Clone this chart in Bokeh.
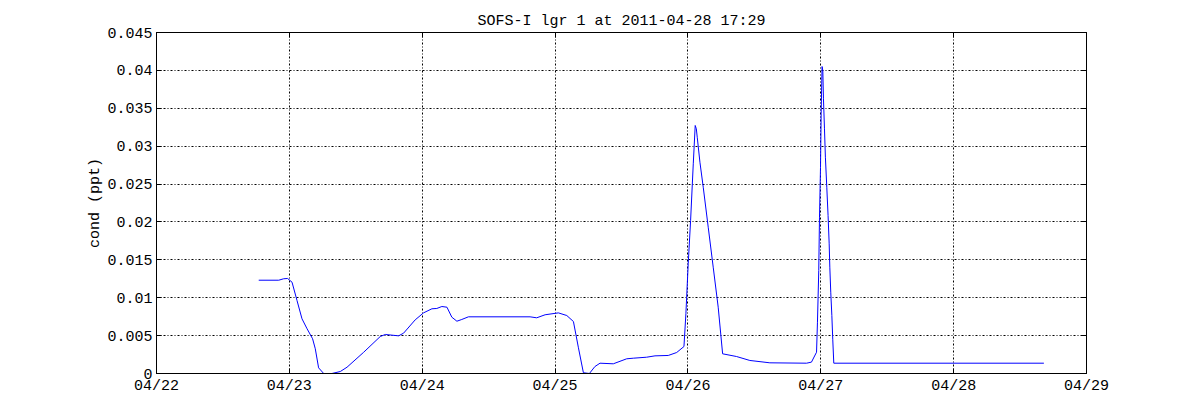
import pandas as pd
from bokeh.plotting import figure
from bokeh.models import (FixedTicker, DatetimeTickFormatter, LinearAxis,
                          DatetimeAxis, Range1d, ColumnDataSource)
from bokeh.embed import file_html
from bokeh.resources import INLINE

title_text = "SOFS-I lgr 1 at 2011-04-28 17:29"
y_label = "cond (ppt)"

times = [
    "2011-04-22 18:28", "2011-04-22 22:05", "2011-04-22 22:58", "2011-04-22 23:41",
    "2011-04-23 00:29", "2011-04-23 01:23", "2011-04-23 02:17", "2011-04-23 03:12",
    "2011-04-23 04:12", "2011-04-23 04:41", "2011-04-23 05:17", "2011-04-23 06:12",
    "2011-04-23 07:41", "2011-04-23 09:12", "2011-04-23 10:25", "2011-04-23 13:25",
    "2011-04-23 16:25", "2011-04-23 17:20", "2011-04-23 19:44", "2011-04-23 20:38",
    "2011-04-23 22:44", "2011-04-24 00:14", "2011-04-24 01:45", "2011-04-24 02:38",
    "2011-04-24 03:33", "2011-04-24 04:28", "2011-04-24 05:21", "2011-04-24 06:16",
    "2011-04-24 07:09", "2011-04-24 08:21", "2011-04-24 19:29", "2011-04-24 20:41",
    "2011-04-24 22:12", "2011-04-25 00:36", "2011-04-25 02:07", "2011-04-25 03:19",
    "2011-04-25 04:12", "2011-04-25 05:07", "2011-04-25 06:12", "2011-04-25 07:12",
    "2011-04-25 08:07", "2011-04-25 10:31", "2011-04-25 12:56", "2011-04-25 14:08",
    "2011-04-25 16:32", "2011-04-25 18:03", "2011-04-25 20:27", "2011-04-25 21:58",
    "2011-04-25 23:17", "2011-04-25 23:38", "2011-04-26 00:03", "2011-04-26 00:29",
    "2011-04-26 00:58", "2011-04-26 01:19", "2011-04-26 01:31", "2011-04-26 01:41",
    "2011-04-26 02:10", "2011-04-26 02:46", "2011-04-26 03:40", "2011-04-26 04:34",
    "2011-04-26 05:28", "2011-04-26 06:16", "2011-04-26 08:47", "2011-04-26 11:11",
    "2011-04-26 14:48", "2011-04-26 21:26", "2011-04-26 22:19", "2011-04-26 23:14",
    "2011-04-26 23:24", "2011-04-26 23:38", "2011-04-26 23:46", "2011-04-26 23:57",
    "2011-04-27 00:04", "2011-04-27 00:14", "2011-04-27 00:22", "2011-04-27 00:29",
    "2011-04-27 00:40", "2011-04-27 00:50", "2011-04-27 01:05", "2011-04-27 01:19",
    "2011-04-27 01:31", "2011-04-27 01:38", "2011-04-27 01:48", "2011-04-27 02:00",
    "2011-04-27 02:10", "2011-04-27 02:21", "2011-04-28 16:18",
]

cond = [
    0.01231, 0.01231, 0.01250, 0.01254,
    0.01205, 0.00963, 0.00722, 0.00590,
    0.00458, 0.00326, 0.00075, 0.00000,
    0.00000, 0.00026, 0.00083, 0.00280,
    0.00488, 0.00515, 0.00497, 0.00532,
    0.00708, 0.00800, 0.00854, 0.00858,
    0.00884, 0.00875, 0.00743, 0.00690,
    0.00713, 0.00748, 0.00748, 0.00735,
    0.00775, 0.00800, 0.00765, 0.00686,
    0.00347, 0.00010, 0.00000, 0.00092,
    0.00136, 0.00128, 0.00194, 0.00202,
    0.00215, 0.00233, 0.00238, 0.00277,
    0.00356, 0.00788, 0.01447, 0.02020,
    0.02767, 0.03273, 0.03229, 0.03118,
    0.02788, 0.02458, 0.01930, 0.01403,
    0.00875, 0.00260, 0.00224, 0.00172,
    0.00141, 0.00136, 0.00150, 0.00281,
    0.00677, 0.01359, 0.02063, 0.02722,
    0.03427, 0.04051, 0.03998, 0.03625,
    0.03229, 0.02854, 0.02458, 0.02085,
    0.01711, 0.01403, 0.01073, 0.00765,
    0.00445, 0.00136, 0.00136,
]

y_ticks = [0, 0.005, 0.01, 0.015, 0.02, 0.025, 0.03, 0.035, 0.04, 0.045]
y_tick_labels = ["0", "0.005", "0.01", "0.015", "0.02", "0.025",
                 "0.03", "0.035", "0.04", "0.045"]
day_ticks = ["2011-04-22", "2011-04-23", "2011-04-24", "2011-04-25",
             "2011-04-26", "2011-04-27", "2011-04-28", "2011-04-29"]

FONT = "Liberation Mono"
FS = "15px"

src = ColumnDataSource(dict(t=pd.to_datetime(times), v=cond))
day_ms = [float(x) for x in (pd.to_datetime(day_ticks).asi8 // 10**6)]

p = figure(width=1200, height=420, x_axis_type="datetime",
           output_backend="svg", toolbar_location=None,
           x_range=Range1d(pd.Timestamp(day_ticks[0]), pd.Timestamp(day_ticks[-1])),
           y_range=Range1d(y_ticks[0], y_ticks[-1]),
           min_border_left=156, min_border_right=114,
           min_border_top=32, min_border_bottom=47,
           background_fill_color="white", border_fill_color="white")
p.outline_line_color = "black"
p.outline_line_width = 1

p.title.text = title_text
p.title.text_font = FONT
p.title.text_font_size = FS
p.title.text_font_style = "normal"
p.title.text_color = "black"
p.title.align = "center"
p.title.offset = 0
p.title.standoff = 5

p.line("t", "v", source=src, line_color="#0000ff", line_width=1)

xt = FixedTicker(ticks=day_ms)
yt = FixedTicker(ticks=y_ticks)
fmt = DatetimeTickFormatter(days="%m/%d", months="%m/%d", hours="%m/%d",
                            years="%m/%d")
ylabels = {t: l for t, l in zip(y_ticks, y_tick_labels)}


def style(ax, show_labels=True):
    ax.major_tick_in = 5
    ax.major_tick_out = 0
    ax.minor_tick_line_color = None
    ax.axis_line_color = "black"
    ax.major_tick_line_color = "black"
    ax.major_label_text_font = FONT
    if show_labels:
        ax.major_label_text_color = "black"
        ax.major_label_text_font_size = FS
        ax.major_label_standoff = 4
    else:
        ax.major_label_text_color = None
        ax.major_label_text_font_size = "1px"
        ax.major_label_standoff = 0


xa = p.xaxis[0]
xa.ticker = xt
xa.formatter = fmt
style(xa)

ya = p.yaxis[0]
ya.ticker = yt
ya.major_label_overrides = ylabels
style(ya)
ya.axis_label = y_label
ya.axis_label_text_font = FONT
ya.axis_label_text_font_size = FS
ya.axis_label_text_font_style = "normal"
ya.axis_label_text_color = "black"
ya.axis_label_standoff = 0

top = DatetimeAxis(ticker=xt, formatter=fmt)
style(top, False)
p.add_layout(top, "above")
right = LinearAxis(ticker=yt)
style(right, False)
p.add_layout(right, "right")

for g in (p.xgrid, p.ygrid):
    g.grid_line_color = "black"
    g.grid_line_dash = "2 2 1 2"
    g.grid_line_width = 1
    g.grid_line_alpha = 1.0
p.xgrid.ticker = xt
p.ygrid.ticker = yt

open("out.html", "w").write(file_html(p, INLINE))
